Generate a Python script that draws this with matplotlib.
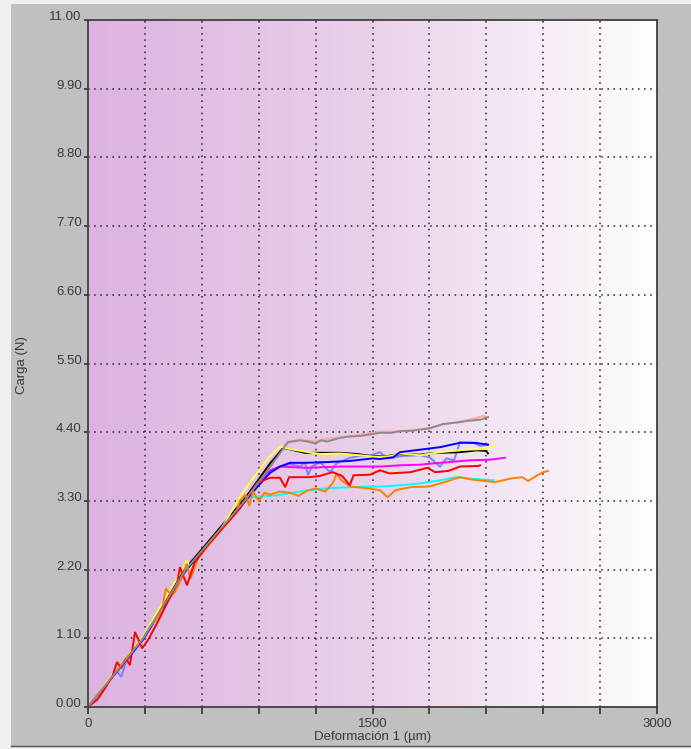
import numpy as np
import matplotlib
matplotlib.use("Agg")
import matplotlib.pyplot as plt
from matplotlib.colors import LinearSegmentedColormap
from matplotlib.patches import Rectangle

# ---- axis setup values ----
x_max = 3000
y_max = 11.0
x_grid = [0, 300, 600, 900, 1200, 1500, 1800, 2100, 2400, 2700, 3000]
x_labels = ["0", "", "", "", "", "1500", "", "", "", "", "3000"]
y_ticks = [0.0, 1.1, 2.2, 3.3, 4.4, 5.5, 6.6, 7.7, 8.8, 9.9, 11.0]
y_labels = ["0.00", "1.10", "2.20", "3.30", "4.40", "5.50", "6.60", "7.70", "8.80", "9.90", "11.00"]

# ---- test curves: deformation (um) / load (N) ----
salmon_x = [0, 290, 515, 830, 950, 1054, 1118, 1197, 1230, 1329, 1434, 1540, 1600, 1700, 1800, 1870, 1960, 2040, 2080, 2109]
salmon_y = [0, 1.10, 2.20, 3.33, 3.82, 4.25, 4.28, 4.25, 4.28, 4.32, 4.36, 4.41, 4.41, 4.43, 4.47, 4.52, 4.57, 4.62, 4.66, 4.64]

gray_x = [0, 290, 515, 830, 950, 1054, 1118, 1160, 1197, 1230, 1260, 1329, 1380, 1434, 1480, 1540, 1600, 1650, 1700, 1750, 1800, 1830, 1870, 1960, 2000, 2067, 2109]
gray_y = [0, 1.10, 2.20, 3.32, 3.80, 4.24, 4.27, 4.25, 4.22, 4.27, 4.25, 4.31, 4.33, 4.34, 4.36, 4.39, 4.39, 4.42, 4.42, 4.44, 4.46, 4.49, 4.53, 4.56, 4.58, 4.60, 4.64]

yellow_x = [0, 150, 290, 500, 520, 540, 700, 800, 860, 960, 1012, 1065, 1144, 1223, 1329, 1434, 1539, 1600, 1645, 1750, 1856, 1990, 2100, 2146]
yellow_y = [0, 0.60, 1.13, 2.22, 2.34, 2.24, 2.84, 3.36, 3.62, 4.02, 4.17, 4.13, 4.09, 4.05, 4.06, 4.03, 4.00, 4.02, 4.06, 4.03, 4.08, 4.12, 4.13, 4.20]

black_x = [0, 290, 515, 830, 960, 1030, 1144, 1329, 1420, 1487, 1560, 1645, 1750, 1800, 1856, 1961, 2050, 2100, 2109]
black_y = [0, 1.12, 2.22, 3.35, 3.90, 4.15, 4.07, 4.07, 4.05, 4.02, 4.01, 4.05, 4.04, 4.06, 4.07, 4.08, 4.11, 4.10, 4.06]

blue_x = [0, 290, 515, 830, 900, 960, 1012, 1065, 1144, 1250, 1381, 1500, 1539, 1610, 1645, 1750, 1856, 1961, 2040, 2109]
blue_y = [0, 1.08, 2.18, 3.30, 3.55, 3.75, 3.85, 3.91, 3.91, 3.92, 3.94, 3.98, 3.97, 4.00, 4.08, 4.12, 4.16, 4.23, 4.23, 4.20]

lblue_x = [0, 150, 175, 200, 290, 515, 830, 930, 1012, 1065, 1118, 1144, 1160, 1180, 1223, 1276, 1310, 1381, 1434, 1487, 1539, 1580, 1660, 1750, 1800, 1856, 1890, 1930, 1961, 2030, 2070, 2109]
lblue_y = [0, 0.58, 0.48, 0.72, 1.08, 2.19, 3.30, 3.70, 3.85, 3.89, 3.85, 3.92, 3.71, 3.85, 3.92, 3.76, 3.90, 3.99, 4.02, 4.03, 4.08, 3.98, 4.02, 4.03, 4.00, 3.85, 3.98, 3.95, 4.24, 4.23, 4.18, 4.20]

magenta_x = [0, 290, 515, 830, 900, 960, 1012, 1144, 1329, 1540, 1645, 1750, 1856, 2014, 2120, 2198]
magenta_y = [0, 1.10, 2.20, 3.32, 3.60, 3.79, 3.85, 3.83, 3.85, 3.85, 3.87, 3.88, 3.91, 3.95, 3.96, 3.99]

red_x = [0, 50, 90, 130, 153, 175, 200, 221, 248, 270, 285, 316, 364, 420, 470, 485, 500, 522, 560, 620, 700, 801, 855, 891,
         960, 1012, 1040, 1060, 1170, 1223, 1290, 1340, 1380, 1400, 1487, 1539, 1590, 1700, 1790, 1830, 1900, 1961, 2060, 2067]
red_y = [0, 0.12, 0.30, 0.50, 0.72, 0.62, 0.78, 0.67, 1.20, 1.05, 0.94, 1.07, 1.34, 1.68, 1.98, 2.24, 2.12, 1.95, 2.30, 2.55, 2.83, 3.18, 3.42, 3.59,
         3.67, 3.67, 3.52, 3.68, 3.68, 3.70, 3.76, 3.70, 3.55, 3.71, 3.72, 3.79, 3.74, 3.76, 3.83, 3.76, 3.78, 3.85, 3.86, 3.87]

orange_x = [0, 100, 200, 290, 330, 360, 390, 410, 440, 460, 500, 520, 540, 580, 650, 720, 780, 800, 830, 850, 870,
            900, 930, 960, 1012, 1065, 1110, 1160, 1200, 1250, 1290, 1310, 1340, 1381, 1480, 1539, 1580, 1620, 1700,
            1800, 1880, 1960, 2030, 2146, 2230, 2290, 2320, 2370, 2400, 2425]
orange_y = [0, 0.38, 0.78, 1.10, 1.30, 1.40, 1.55, 1.90, 1.78, 1.85, 2.10, 2.30, 2.05, 2.38, 2.64, 2.90, 3.10, 3.30, 3.40, 3.22, 3.45,
            3.30, 3.43, 3.40, 3.45, 3.43, 3.38, 3.47, 3.50, 3.45, 3.58, 3.73, 3.62, 3.53, 3.50, 3.47, 3.36, 3.47, 3.52,
            3.53, 3.60, 3.68, 3.64, 3.60, 3.66, 3.68, 3.62, 3.71, 3.76, 3.78]

cyan_x = [0, 290, 515, 830, 854, 1000, 1118, 1250, 1381, 1539, 1645, 1750, 1856, 1940, 2000, 2140]
cyan_y = [0, 1.10, 2.20, 3.30, 3.36, 3.39, 3.45, 3.50, 3.52, 3.53, 3.55, 3.58, 3.63, 3.68, 3.66, 3.63]

series = [
    (salmon_x, salmon_y, "#ffa8a0"),
    (lblue_x, lblue_y, "#8080ff"),
    (cyan_x, cyan_y, "#00ffff"),
    (magenta_x, magenta_y, "#ff00ff"),
    (black_x, black_y, "#000000"),
    (yellow_x, yellow_y, "#ffff50"),
    (blue_x, blue_y, "#0000ff"),
    (orange_x, orange_y, "#ff8000"),
    (red_x, red_y, "#ff0000"),
    (gray_x, gray_y, "#8e8a8a"),
]

W, H = 691, 749
fig = plt.figure(figsize=(W / 100, H / 100), dpi=100, facecolor="#c0c0c0")

# light window edges around the grey panel
for (x0, y0, x1, y1) in [(0, 0, 11, H), (0, 0, W, 4), (0, 746, W, H)]:
    fig.patches.append(Rectangle((x0 / W, 1 - y1 / H), (x1 - x0) / W, (y1 - y0) / H,
                                 transform=fig.transFigure, facecolor="#f0f0f0",
                                 edgecolor="none", zorder=-5))
fig.lines.append(plt.Line2D([11 / W, W / W], [1 - 745.5 / H, 1 - 745.5 / H],
                            transform=fig.transFigure, color="#505050", lw=1.0))

left, right, top, bottom = 88, 657, 20, 707
ax = fig.add_axes([left / W, 1 - bottom / H, (right - left) / W, (bottom - top) / H])

# horizontal purple-to-white background
cmap = LinearSegmentedColormap.from_list("bg", ["#dcb3e0", "#ead1ea", "#ffffff"])
grad = np.linspace(0, 1, 512).reshape(1, -1)
ax.imshow(grad, cmap=cmap, aspect="auto", extent=[0, x_max, 0, y_max], zorder=0, interpolation="bicubic")

ax.set_xlim(0, x_max)
ax.set_ylim(0, y_max)

for xg in x_grid[1:-1]:
    ax.axvline(xg, color="#202020", lw=1.1, ls=(0, (1, 3)), zorder=1)
for yg in y_ticks[1:-1]:
    ax.axhline(yg, color="#202020", lw=1.1, ls=(0, (1, 3)), zorder=1)

for xs, ys, c in series:
    ax.plot(xs, ys, color=c, lw=1.4, zorder=3, solid_joinstyle="miter")

font = ["Liberation Sans Narrow", "Liberation Sans", "DejaVu Sans"]
txt_color = "#3a3a3a"

ax.set_xticks(x_grid)
ax.set_xticklabels(x_labels, family=font, fontsize=9.5, color=txt_color)
ax.set_yticks(y_ticks)
ax.set_yticklabels(y_labels, family=font, fontsize=9.5, color=txt_color)
for lab in ax.get_yticklabels():
    lab.set_verticalalignment("baseline")
ax.tick_params(axis="x", direction="out", length=5, width=1.2, color="#303030", pad=3)
ax.tick_params(axis="y", direction="out", length=3, width=1.2, color="#303030", pad=1.5)

for side in ["left", "bottom", "right", "top"]:
    ax.spines[side].set_color("#404040")
    ax.spines[side].set_linewidth(1.3)
    ax.spines[side].set_zorder(5)

fig.text(373 / W, 1 - 737 / H, "Deformación 1 (µm)", ha="center", va="center",
         family=font, fontsize=9.5, color=txt_color)
fig.text(22 / W, 1 - 365 / H, "Carga (N)", ha="center", va="center", rotation=90,
         family=font, fontsize=9.5, color=txt_color)

fig.savefig("out.png", dpi=100, facecolor=fig.get_facecolor())
